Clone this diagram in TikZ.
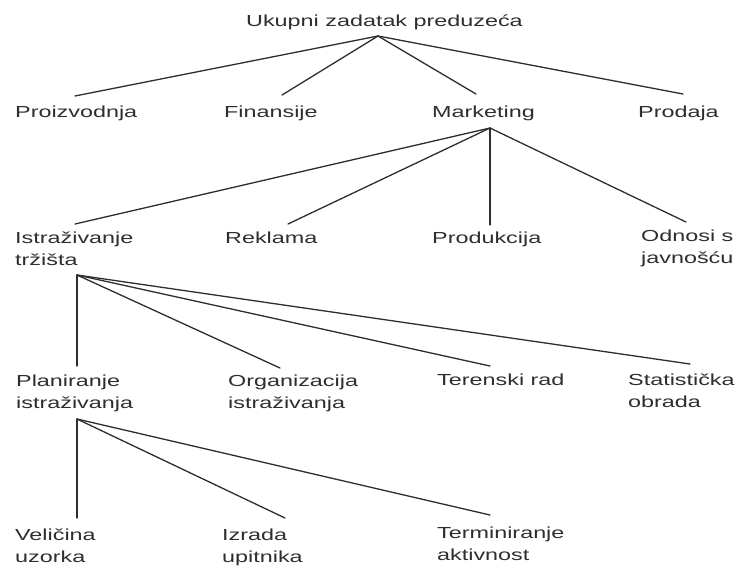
\documentclass[tikz,border=0pt]{standalone}
\usepackage{fontspec}
\usepackage{graphicx}
\setmainfont{Liberation Sans}
\definecolor{ink}{HTML}{2E2E2E}
\newcommand{\wlabel}[1]{\scalebox{1.46}[1]{\begin{tabular}[t]{@{}l@{}}#1\end{tabular}}}
\tikzset{
  lbl/.style={inner sep=0pt, anchor=base west, text=ink,
    font=\fontsize{16}{22}\selectfont},
  branch/.style={draw=ink, line width=1.3pt, line cap=round}
}
\begin{document}
\begin{tikzpicture}[x=1pt, y=-1pt]
\useasboundingbox[fill=white] (0,0) rectangle (755,566);

% level 0
\node[lbl] (ukupni) at (246,26) {\wlabel{Ukupni zadatak preduzeća}};
\coordinate (ukupni-s) at (378,36);

% level 1
\node[lbl] (proiz) at (15,117) {\wlabel{Proizvodnja}};
\node[lbl] (finan) at (224,117) {\wlabel{Finansije}};
\node[lbl] (mark)  at (432,117) {\wlabel{Marketing}};
\node[lbl] (prod)  at (638,117) {\wlabel{Prodaja}};
\coordinate (proiz-n) at (75,96);
\coordinate (finan-n) at (282,95);
\coordinate (mark-n)  at (476,94);
\coordinate (prod-n)  at (683,94);
\coordinate (mark-s)  at (490,128);

% level 2
\node[lbl] (istr) at (15,243)  {\wlabel{Istraživanje\\tržišta}};
\node[lbl] (rekl) at (225,243) {\wlabel{Reklama}};
\node[lbl] (produ) at (432,243) {\wlabel{Produkcija}};
\node[lbl] (odn)  at (641,241) {\wlabel{Odnosi s\\javnošću}};
\coordinate (istr-n)  at (75,224);
\coordinate (rekl-n)  at (288,224);
\coordinate (produ-n) at (490,225);
\coordinate (odn-n)   at (686,222);
\coordinate (istr-s)  at (77,275);

% level 3
\node[lbl] (plan) at (16,386)  {\wlabel{Planiranje\\istraživanja}};
\node[lbl] (org)  at (228,386) {\wlabel{Organizacija\\istraživanja}};
\node[lbl] (ter)  at (437,385) {\wlabel{Terenski rad}};
\node[lbl] (stat) at (628,385) {\wlabel{Statistička\\obrada}};
\coordinate (plan-n) at (77,366);
\coordinate (org-n)  at (280,368);
\coordinate (ter-n)  at (490,366);
\coordinate (stat-n) at (690,364);
\coordinate (plan-s) at (77,419);

% level 4
\node[lbl] (vel) at (15,540)  {\wlabel{Veličina\\uzorka}};
\node[lbl] (izr) at (222,540) {\wlabel{Izrada\\upitnika}};
\node[lbl] (term) at (437,538) {\wlabel{Terminiranje\\aktivnost}};
\coordinate (vel-n)  at (77,518);
\coordinate (izr-n)  at (285,518);
\coordinate (term-n) at (490,515);

% branches
\foreach \c in {proiz-n,finan-n,mark-n,prod-n} \draw[branch] (ukupni-s) -- (\c);
\foreach \c in {istr-n,rekl-n,produ-n,odn-n} \draw[branch] (mark-s) -- (\c);
\foreach \c in {plan-n,org-n,ter-n,stat-n} \draw[branch] (istr-s) -- (\c);
\foreach \c in {vel-n,izr-n,term-n} \draw[branch] (plan-s) -- (\c);
\end{tikzpicture}
\end{document}
